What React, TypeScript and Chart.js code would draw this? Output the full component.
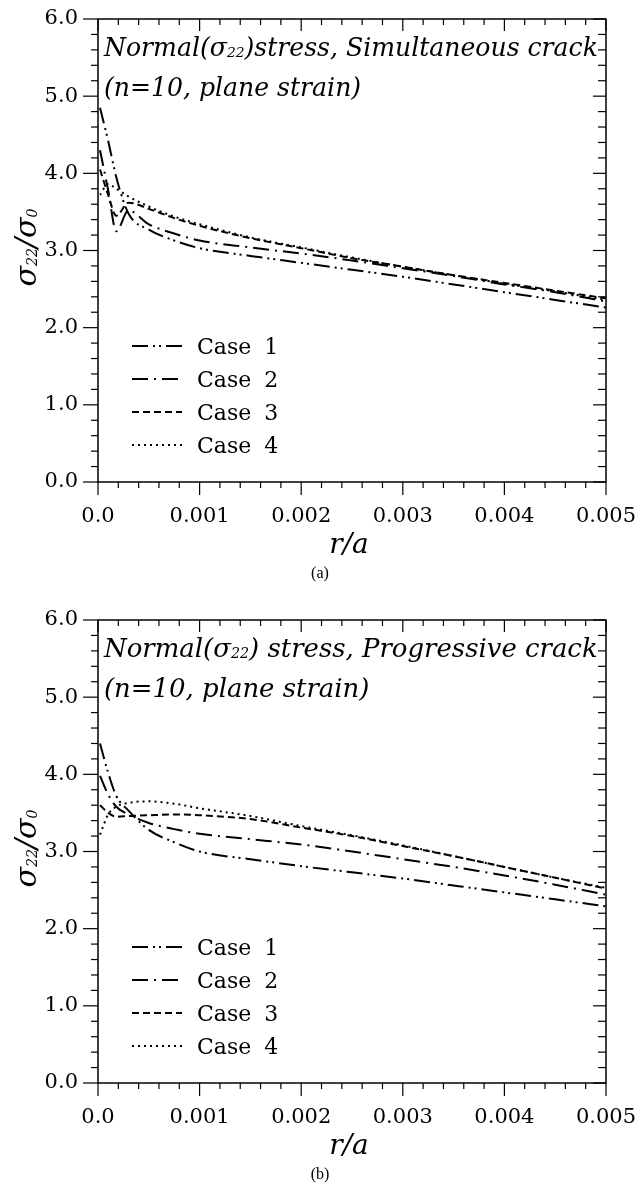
import React, { useEffect, useRef } from "react";
import { Chart, registerables } from "chart.js";

Chart.register(...registerables);

// r/a sample positions (shared by all curves)
const rValues = [0.00002, 0.0001, 0.00018, 0.0003, 0.0005, 0.00075, 0.001, 0.0015, 0.002, 0.0025, 0.003, 0.0035, 0.004, 0.0045, 0.005];

// (a) Simultaneous crack
const simCase1 = [4.85, 4.42, 3.95, 3.48, 3.27, 3.13, 3.03, 2.93, 2.84, 2.75, 2.66, 2.56, 2.46, 2.36, 2.26];
const simCase2 = [4.3, 3.78, 3.25, 3.52, 3.34, 3.22, 3.13, 3.04, 2.96, 2.87, 2.77, 2.67, 2.56, 2.46, 2.34];
const simCase3 = [4.05, 3.72, 3.45, 3.62, 3.54, 3.42, 3.32, 3.16, 3.03, 2.9, 2.79, 2.68, 2.58, 2.48, 2.38];
const simCase4 = [3.72, 3.86, 3.8, 3.7, 3.57, 3.44, 3.34, 3.17, 3.04, 2.91, 2.79, 2.68, 2.57, 2.47, 2.36];

// (b) Progressive crack
const progCase1 = [4.4, 4.02, 3.72, 3.53, 3.28, 3.12, 3.0, 2.9, 2.81, 2.73, 2.65, 2.56, 2.47, 2.38, 2.29];
const progCase2 = [3.98, 3.74, 3.58, 3.48, 3.37, 3.29, 3.23, 3.16, 3.09, 3.0, 2.9, 2.8, 2.69, 2.57, 2.44];
const progCase3 = [3.6, 3.5, 3.45, 3.46, 3.47, 3.48, 3.47, 3.42, 3.31, 3.2, 3.07, 2.94, 2.8, 2.66, 2.52];
const progCase4 = [3.22, 3.48, 3.58, 3.63, 3.65, 3.62, 3.56, 3.46, 3.33, 3.21, 3.08, 2.94, 2.8, 2.66, 2.53];

const caseLabels = ["Case 1", "Case 2", "Case 3", "Case 4"];
const xTickValues = [0, 0.001, 0.002, 0.003, 0.004, 0.005];
const xTickLabels = ["0.0", "0.001", "0.002", "0.003", "0.004", "0.005"];
const yTickValues = [0, 1, 2, 3, 4, 5, 6];
const yTickLabels = ["0.0", "1.0", "2.0", "3.0", "4.0", "5.0", "6.0"];

// styles
const caseDashes = [
  [16, 5, 2, 4, 2, 5],
  [16, 6, 2, 6],
  [7, 4],
  [2, 4],
];

const SERIF = "'DejaVu Serif', serif";
const PLOT_TOP = 19;
const PLOT_BOTTOM = 482;
const PLOT_LEFT = 98;
const PLOT_RIGHT = 606;

type Run = { text: string; size: number; dy: number; italic: boolean };

function runsWidth(ctx: CanvasRenderingContext2D, runs: Run[]) {
  let w = 0;
  for (const r of runs) {
    ctx.font = `${r.italic ? "italic " : ""}${r.size}px ${SERIF}`;
    w += ctx.measureText(r.text).width;
  }
  return w;
}

function drawRuns(ctx: CanvasRenderingContext2D, runs: Run[], x: number, y: number) {
  for (const r of runs) {
    ctx.font = `${r.italic ? "italic " : ""}${r.size}px ${SERIF}`;
    ctx.fillText(r.text, x, y + r.dy);
    x += ctx.measureText(r.text).width;
  }
}

type Props = {
  height: number;
  series: number[][];
  titlePre: string;
  titleSub: string;
  titlePost: string;
  subtitle: string;
  caption: string;
};

function StressChart({ height, series, titlePre, titleSub, titlePost, subtitle, caption }: Props) {
  const ref = useRef<HTMLCanvasElement>(null);

  useEffect(() => {
    const canvas = ref.current!;
    const decor = {
      id: "decor",
      afterDraw(chart: any) {
        const ctx: CanvasRenderingContext2D = chart.ctx;
        const a = chart.chartArea;
        const xs = chart.scales.x;
        const ys = chart.scales.y;
        ctx.save();
        ctx.strokeStyle = "#000";
        ctx.fillStyle = "#000";
        ctx.setLineDash([]);
        ctx.lineCap = "butt";
        const seg = (x1: number, y1: number, x2: number, y2: number) => {
          ctx.beginPath();
          ctx.moveTo(x1, y1);
          ctx.lineTo(x2, y2);
          ctx.stroke();
        };
        // frame
        ctx.lineWidth = 1.5;
        ctx.strokeRect(a.left, a.top, a.right - a.left, a.bottom - a.top);
        // ticks
        ctx.lineWidth = 1.2;
        for (let i = 0; i <= 25; i++) {
          const px = xs.getPixelForValue((i / 25) * 0.005);
          const major = i % 5 === 0;
          seg(px, a.bottom, px, a.bottom + (major ? 13 : 6));
          seg(px, a.top, px, a.top + (major ? 12 : 6));
        }
        for (let i = 0; i <= 30; i++) {
          const py = ys.getPixelForValue(i / 5);
          const major = i % 5 === 0;
          seg(a.left - (major ? 15 : 7), py, a.left, py);
          seg(a.right - (major ? 13 : 8), py, a.right, py);
        }
        // title inside plot
        const base = 22;
        const mk = (s: number): Run[] => [
          { text: titlePre, size: s, dy: 0, italic: true },
          { text: titleSub, size: s * 0.55, dy: 1, italic: true },
          { text: titlePost, size: s, dy: 0, italic: true },
        ];
        const w0 = runsWidth(ctx, mk(base));
        const s = (base * 494) / w0;
        ctx.textBaseline = "alphabetic";
        ctx.textAlign = "left";
        drawRuns(ctx, mk(s), a.left + 6, a.top + 37);
        drawRuns(ctx, [{ text: subtitle, size: s, dy: 0, italic: true }], a.left + 6, a.top + 77);

        // legend
        const offs = [136, 103, 70, 37];
        for (let k = 0; k < caseLabels.length; k++) {
          const y = a.bottom - offs[k];
          ctx.lineWidth = 2;
          ctx.setLineDash(caseDashes[k]);
          seg(132, y, 182, y);
          ctx.setLineDash([]);
          ctx.font = `22px ${SERIF}`;
          (ctx as any).wordSpacing = "6px";
          ctx.fillText(caseLabels[k], 197, y + 8);
          (ctx as any).wordSpacing = "0px";
        }

        // y axis title: sigma_22 / sigma_0, rotated
        const yRuns: Run[] = [
          { text: "σ", size: 30, dy: 0, italic: true },
          { text: "22", size: 14, dy: 1, italic: true },
          { text: "/", size: 30, dy: 0, italic: true },
          { text: "σ", size: 30, dy: 0, italic: true },
          { text: "0", size: 14, dy: 1, italic: true },
        ];
        const yw = runsWidth(ctx, yRuns);
        ctx.save();
        ctx.translate(36, (a.top + a.bottom) / 2 - 3);
        ctx.rotate(-Math.PI / 2);
        drawRuns(ctx, yRuns, -yw / 2, 0);
        ctx.restore();

        // x axis title
        ctx.font = `italic 28px ${SERIF}`;
        ctx.textAlign = "center";
        ctx.fillText("r/a", 349, a.bottom + 71);
        // caption
        ctx.font = "16px 'Liberation Serif', serif";
        ctx.textBaseline = "middle";
        ctx.fillText(caption, 320, a.bottom + 92);
        ctx.restore();
      },
    };

    const tickFont = { family: SERIF, size: 21 };
    const chart = new Chart(canvas, {
      type: "line",
      data: {
        datasets: series.map((vals, k) => ({
          label: caseLabels[k],
          data: rValues.map((r, i) => ({ x: r, y: vals[i] })),
          borderColor: "#000",
          borderWidth: 2,
          borderDash: caseDashes[k],
          pointRadius: 0,
          cubicInterpolationMode: "monotone",
          fill: false,
        })),
      },
      options: {
        responsive: false,
        animation: false,
        devicePixelRatio: 1,
        events: [],
        layout: { padding: { left: 0, right: 640 - PLOT_RIGHT, top: PLOT_TOP, bottom: 0 } },
        plugins: { legend: { display: false }, tooltip: { enabled: false }, title: { display: false } },
        scales: {
          x: {
            type: "linear",
            min: 0,
            max: 0.005,
            afterBuildTicks: (sc: any) => {
              sc.ticks = xTickValues.map((v) => ({ value: v }));
            },
            ticks: {
              callback: (_v: any, i: number) => xTickLabels[i],
              font: tickFont,
              color: "#000",
              padding: 22,
              maxRotation: 0,
              autoSkip: false,
            },
            grid: { display: false, drawTicks: false },
            border: { display: false },
            afterFit: (sc: any) => {
              sc.height = height - PLOT_BOTTOM;
              sc.paddingLeft = 0;
              sc.paddingRight = 0;
              sc.paddingTop = 0;
              sc.paddingBottom = 0;
            },
          },
          y: {
            type: "linear",
            min: 0,
            max: 6,
            afterBuildTicks: (sc: any) => {
              sc.ticks = yTickValues.map((v) => ({ value: v }));
            },
            ticks: {
              callback: (_v: any, i: number) => yTickLabels[i],
              font: tickFont,
              color: "#000",
              padding: 20,
              autoSkip: false,
            },
            grid: { display: false, drawTicks: false },
            border: { display: false },
            afterFit: (sc: any) => {
              sc.width = PLOT_LEFT;
              sc.paddingLeft = 0;
              sc.paddingRight = 0;
              sc.paddingTop = 0;
              sc.paddingBottom = 0;
            },
          },
        },
      },
      plugins: [decor],
    } as any);
    return () => chart.destroy();
  }, []);

  return <canvas ref={ref} width={640} height={height} style={{ display: "block", width: 640, height }} />;
}

export default function App() {
  return (
    <div style={{ position: "absolute", left: 0, top: 0, width: 640, height: 1190, background: "#fff", overflow: "hidden" }}>
      <div style={{ position: "absolute", left: 0, top: 0 }}>
        <StressChart
          height={595}
          series={[simCase1, simCase2, simCase3, simCase4]}
          titlePre="Normal(σ"
          titleSub="22"
          titlePost=")stress, Simultaneous crack"
          subtitle="(n=10, plane strain)"
          caption="(a)"
        />
      </div>
      <div style={{ position: "absolute", left: 0, top: 601 }}>
        <StressChart
          height={589}
          series={[progCase1, progCase2, progCase3, progCase4]}
          titlePre="Normal(σ"
          titleSub="22"
          titlePost=") stress, Progressive crack"
          subtitle="(n=10, plane strain)"
          caption="(b)"
        />
      </div>
    </div>
  );
}
